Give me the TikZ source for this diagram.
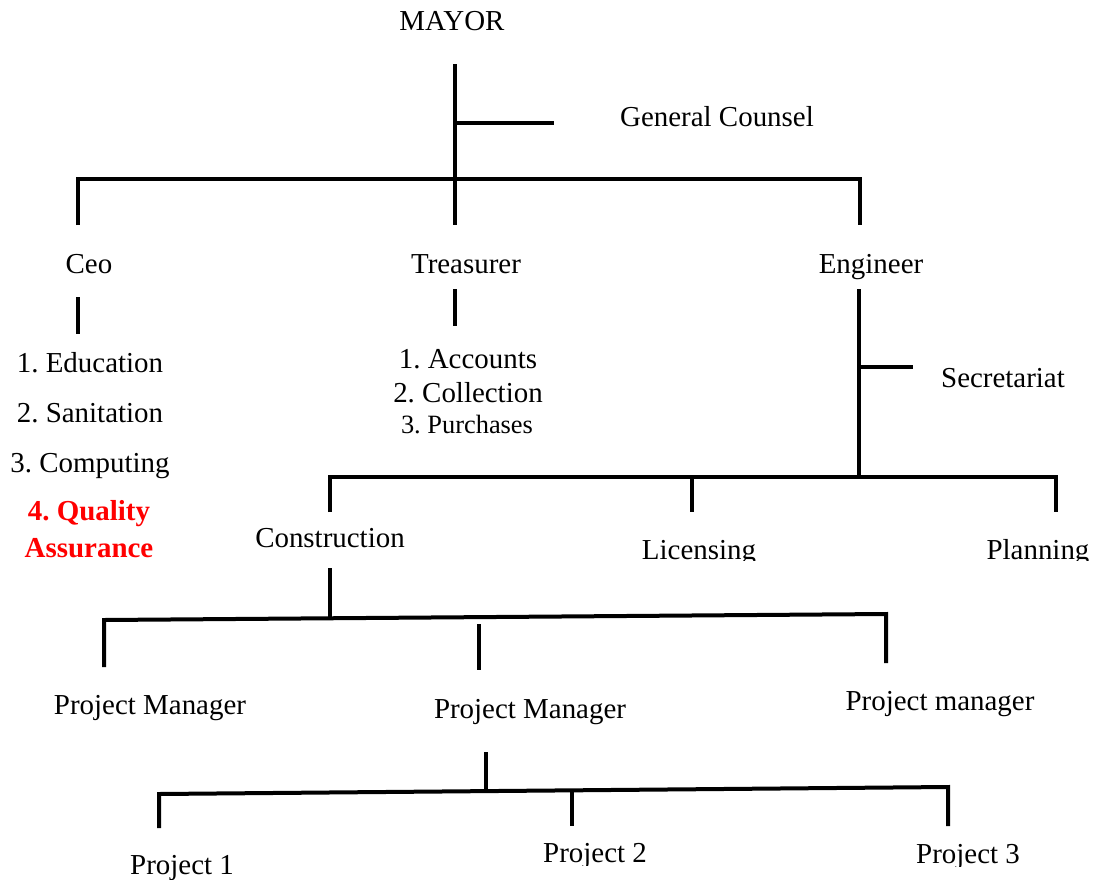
\documentclass[tikz,border=0pt]{standalone}
\usepackage{fontspec}
\setmainfont{Liberation Serif}
\definecolor{qared}{RGB}{255,0,0}
\frenchspacing
\begin{document}
\begin{tikzpicture}[x=0.75pt,y=-0.75pt,
  lbl/.style={anchor=base,inner sep=0pt,font=\fontsize{21.7}{26}\selectfont},
  smalllbl/.style={lbl,font=\fontsize{19.8}{24}\selectfont},
  qalbl/.style={lbl,font=\fontsize{21.7}{26}\selectfont\bfseries,text=qared},
  link/.style={line width=3pt}]
\useasboundingbox (0,0) rectangle (1100,879);
\clip (0,0) rectangle (1100,879);

% ---- labels ----
\node[lbl] (mayor)   at (452,30)  {MAYOR};
\node[lbl] (counsel) at (717,126) {General Counsel};
\node[lbl] (ceo)     at (89,273)  {Ceo};
\node[lbl] (treas)   at (466,273) {Treasurer};
\node[lbl] (eng)     at (871,273) {Engineer};

\node[lbl] (edu)  at (90,372) {1. Education};
\node[lbl] (san)  at (90,422) {2. Sanitation};
\node[lbl] (comp) at (90,472) {3. Computing};
\node[qalbl] (qaA) at (89,520) {4. Quality};
\node[qalbl] (qaB) at (89,557) {Assurance};

\node[lbl] (acc)   at (468,368) {1. Accounts};
\node[lbl] (coll)  at (468,402) {2. Collection};
\node[smalllbl] (purch) at (467,433) {3. Purchases};

\node[lbl] (secr) at (1003,387) {Secretariat};
\node[lbl] (cons) at (330,547) {Construction};
\begin{scope}
  \clip (600,500) rectangle (800,560);
  \node[lbl] (lic) at (699,559) {Licensing};
\end{scope}
\begin{scope}
  \clip (950,500) rectangle (1100,560);
  \node[lbl] (plan) at (1038,559) {Planning};
\end{scope}

\node[lbl] (pmA) at (150,714) {Project Manager};
\node[lbl] (pmB) at (530,718) {Project Manager};
\node[lbl] (pmC) at (940,710) {Project manager};

\node[lbl] (prA) at (182,874) {Project 1};
\begin{scope}
  \clip (500,820) rectangle (700,865);
  \node[lbl] (prB) at (595,862) {Project 2};
\end{scope}
\begin{scope}
  \clip (880,820) rectangle (1060,866);
  \node[lbl] (prC) at (968,863) {Project 3};
\end{scope}

% ---- connector points ----
\coordinate (mTop)   at (455,64);
\coordinate (mGC)    at (455,123);
\coordinate (gcEnd)  at (554,123);
\coordinate (busL)   at (78,179);
\coordinate (busR)   at (860,179);
\coordinate (ceoUp)  at (78,225);
\coordinate (trUp)   at (455,225);
\coordinate (engUp)  at (860,225);
\coordinate (ceoDnA) at (78,297);
\coordinate (ceoDnB) at (78,334);
\coordinate (trDnA)  at (455,289);
\coordinate (trDnB)  at (455,326);
\coordinate (engDn)  at (859,289);
\coordinate (secA)   at (859,367);
\coordinate (secB)   at (913,367);
\coordinate (engBus) at (859,477);
\coordinate (eBusL)  at (330,477);
\coordinate (eBusR)  at (1056,477);
\coordinate (consUp) at (330,512);
\coordinate (licA)   at (692,477);
\coordinate (licB)   at (692,512);
\coordinate (planUp) at (1056,512);
\coordinate (consDn) at (330,568);
\coordinate (consJ)  at (330,617);
\coordinate (cBusL)  at (104,620);
\coordinate (cBusR)  at (886,614);
\coordinate (pmAUp)  at (104,667);
\coordinate (pmBA)   at (479,624);
\coordinate (pmBB)   at (479,670);
\coordinate (pmCUp)  at (886,663);
\coordinate (pmBDn)  at (486,752);
\coordinate (pmBJ)   at (486,790);
\coordinate (pBusL)  at (159,794);
\coordinate (pBusR)  at (948,787);
\coordinate (prAUp)  at (159,828);
\coordinate (prBA)   at (572,792);
\coordinate (prBB)   at (572,826);
\coordinate (prCUp)  at (948,826);

% ---- connectors ----
\draw[link] (mTop) -- (trUp);
\draw[link] (mGC) -- (gcEnd);
\draw[link] (ceoUp) -- (busL) -- (busR) -- (engUp);
\draw[link] (ceoDnA) -- (ceoDnB);
\draw[link] (trDnA) -- (trDnB);
\draw[link] (engDn) -- (engBus);
\draw[link] (secA) -- (secB);
\draw[link] (consUp) -- (eBusL) -- (eBusR) -- (planUp);
\draw[link] (licA) -- (licB);
\draw[link] (consDn) -- (consJ);
\draw[link] (pmAUp) -- (cBusL) -- (cBusR) -- (pmCUp);
\draw[link] (pmBA) -- (pmBB);
\draw[link] (pmBDn) -- (pmBJ);
\draw[link] (prAUp) -- (pBusL) -- (pBusR) -- (prCUp);
\draw[link] (prBA) -- (prBB);
\end{tikzpicture}
\end{document}
